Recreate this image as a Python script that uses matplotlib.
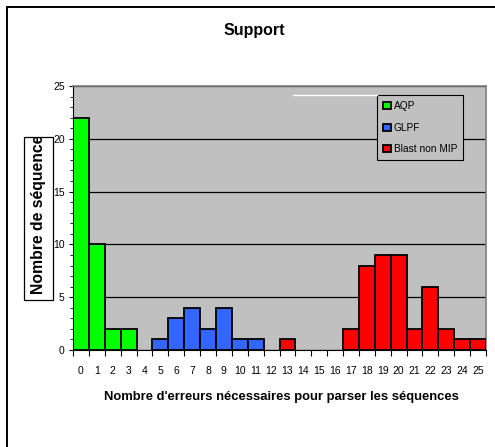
import numpy as np
import matplotlib
matplotlib.use("Agg")
import matplotlib.pyplot as plt
from matplotlib.patches import Rectangle
from matplotlib.lines import Line2D

# data
categories = list(range(26))
aqp_x = [0, 1, 2, 3]
aqp_y = [22, 10, 2, 2]
glpf_x = [5, 6, 7, 8, 9, 10, 11]
glpf_y = [1, 3, 4, 2, 4, 1, 1]
blast_x = [13, 17, 18, 19, 20, 21, 22, 23, 24, 25]
blast_y = [1, 2, 8, 9, 9, 2, 6, 2, 1, 1]

plt.rcParams['font.family'] = ['Liberation Sans', 'DejaVu Sans']

W, H = 495, 447
fig = plt.figure(figsize=(W / 100, H / 100), dpi=100)
ax = fig.add_axes([73 / W, 1 - 350 / H, (486 - 73) / W, (350 - 86) / H])
ax.set_facecolor('#C0C0C0')

for xs, ys, col, lab in [(aqp_x, aqp_y, '#00FF00', 'AQP'),
                         (glpf_x, glpf_y, '#3366FF', 'GLPF'),
                         (blast_x, blast_y, '#FF0000', 'Blast non MIP')]:
    ax.bar(xs, ys, width=1.0, color=col, edgecolor='black', linewidth=1.3,
           label=lab, zorder=3)

ax.set_xlim(-0.5, 25.5)
ax.set_ylim(0, 25)
ax.set_yticks(range(0, 26, 5))
ax.set_yticks(range(0, 26), minor=True)
ax.yaxis.grid(True, color='black', linewidth=0.9, zorder=1)
ax.set_axisbelow(True)
ax.tick_params(axis='y', which='major', length=3, width=0.8, labelsize=7.5, pad=3)
ax.tick_params(axis='y', which='minor', length=2, width=0.6)

# category boundaries as ticks, labels at centres
ax.set_xticks(np.arange(-0.5, 26, 1.0))
ax.set_xticklabels([])
ax.tick_params(axis='x', which='major', length=4, width=0.8)
ax.set_xticks(categories, minor=True)
ax.set_xticklabels([str(c) for c in categories], minor=True)
ax.tick_params(axis='x', which='minor', length=0, labelsize=7.5, pad=11.5)

for s in ['top', 'right']:
    ax.spines[s].set_color('#808080')
    ax.spines[s].set_linewidth(1.2)
ax.spines['left'].set_color('black')
ax.spines['bottom'].set_color('black')

leg = ax.legend(loc='upper right', bbox_to_anchor=(463 / W, 1 - 95 / H),
                bbox_transform=fig.transFigure, fontsize=7.3, frameon=True,
                fancybox=False, edgecolor='black', facecolor='#C0C0C0',
                framealpha=1, handlelength=0.7, handleheight=0.7,
                handletextpad=0.3, labelspacing=1.15, borderpad=0.6,
                borderaxespad=0)
leg.get_frame().set_linewidth(0.8)
leg.set_zorder(5)

# white line left of the legend
fig.add_artist(Line2D([293 / W, 377 / W], [1 - 95 / H, 1 - 95 / H],
                      color='white', linewidth=1.0, zorder=6))

fig.text(254 / W, 1 - 31 / H, 'Support', ha='center', va='center',
         fontsize=11.5, fontweight='bold')
fig.text(281 / W, 1 - 397 / H, "Nombre d'erreurs nécessaires pour parser les séquences",
         ha='center', va='center', fontsize=9.4, fontweight='bold')

# boxed y label, clipped by its box
box = Rectangle((24 / W, 1 - 300 / H), 29 / W, 163 / H, transform=fig.transFigure,
                facecolor='white', edgecolor='black', linewidth=0.9, zorder=4)
fig.add_artist(box)
yl = fig.text(39 / W, 1 - 300 / H + 6 / H, 'Nombre de séquences', rotation=90,
              ha='center', va='bottom', fontsize=11.3, fontweight='bold', zorder=5)
clip = Rectangle((24 / W, 1 - 300 / H), 29 / W, 163 / H, transform=fig.transFigure,
                 facecolor='none', edgecolor='none')
fig.add_artist(clip)
yl.set_clip_path(clip)

# outer frame (left and top only visible)
fig.add_artist(Line2D([6.5 / W, 6.5 / W], [0, 1 - 6.5 / H], color='black', linewidth=1.4))
fig.add_artist(Line2D([6.5 / W, 1], [1 - 6.5 / H, 1 - 6.5 / H], color='black', linewidth=1.4))

fig.savefig('out.png', dpi=100)
